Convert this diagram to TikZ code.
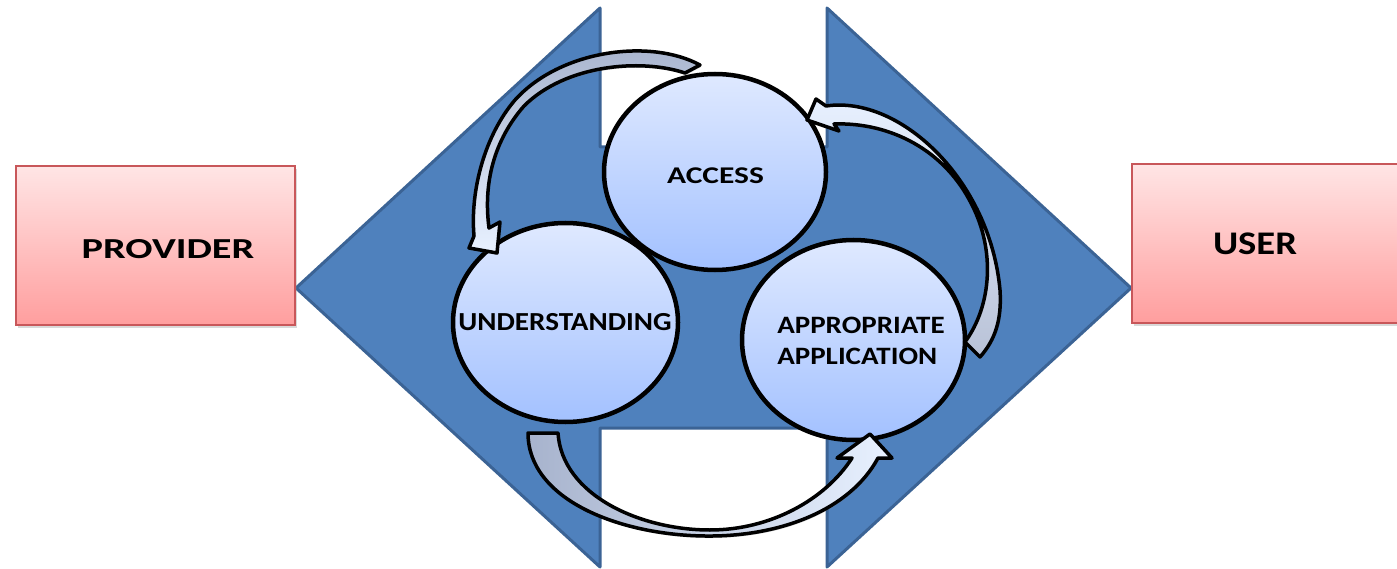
\documentclass[tikz,border=0pt]{standalone}
\usepackage{fontspec}
\setmainfont{Carlito}
\usetikzlibrary{shapes.geometric,shadows}

\definecolor{band}{HTML}{4F81BD}
\definecolor{bandline}{HTML}{3B6395}
\definecolor{pinktop}{HTML}{FFE5E5}
\definecolor{pinkbot}{HTML}{FF9E9E}
\definecolor{pinkline}{HTML}{C8575A}
\definecolor{bubtop}{HTML}{DFE9FF}
\definecolor{bubbot}{HTML}{A3C1FF}
\definecolor{arrlight}{HTML}{E8F1FF}
\definecolor{arrdark}{HTML}{A7B3CD}

\newcommand{\wide}[2]{\scalebox{#1}[1]{#2}}

\tikzset{
    box/.style={rectangle, draw=pinkline, line width=1.5pt, top color=pinktop, bottom color=pinkbot,
        drop shadow={opacity=0.3, shadow xshift=2pt, shadow yshift=-3pt}},
    bubble/.style={ellipse, draw=black, line width=4.5pt, top color=bubtop, bottom color=bubbot},
    word/.style={inner sep=0pt},
    bent/.style={draw=black, line width=3.5pt, line join=round,
        drop shadow={opacity=0.35, shadow xshift=1pt, shadow yshift=-2pt}}
}

\begin{document}
\begin{tikzpicture}[x=1pt,y=-1pt]
    \useasboundingbox (0,0) rectangle (1397,569);

    \draw[fill=band, draw=bandline, line width=3pt, line join=round]
        (296,288) -- (600,8) -- (600,147) -- (827,147) -- (827,8) -- (1131,288)
        -- (827,567) -- (827,428) -- (600,428) -- (600,567) -- cycle;

    \node[box, minimum width=279, minimum height=159] (provider) at (155.5,245.5) {};
    \node[box, minimum width=270, minimum height=159] (user) at (1267,243.5) {};

    \node[bubble, minimum width=225, minimum height=199] (understanding) at (565.5,322.5) {};
    \node[bubble, minimum width=222, minimum height=196] (access) at (715,172) {};
    \node[bubble, minimum width=223, minimum height=200] (application) at (853.5,340) {};

    \draw[bent, top color=arrdark, bottom color=arrlight]
        (700,65) .. controls (650,38) and (560,50) .. (515,100)
        .. controls (485,135) and (470,190) .. (474,236) -- (469,248) -- (497,253) -- (500,222)
        -- (489,228) .. controls (484,190) and (490,145) .. (524,106)
        .. controls (565,65) and (640,58) .. (685,73) -- cycle;
    \draw[bent, top color=arrlight, bottom color=arrdark!80!white]
        (807,120) -- (816,99) -- (826,106) .. controls (900,95) and (990,180) .. (1000,290)
        .. controls (1002,320) and (995,340) .. (980,357) -- (965,342)
        .. controls (992,305) and (995,250) .. (972,205)
        .. controls (945,150) and (890,122) .. (834,124) -- (839,131) -- cycle;
    \draw[bent, left color=arrdark, right color=arrlight]
        (528,433) -- (558,433) .. controls (562,495) and (640,530) .. (710,530)
        .. controls (770,530) and (825,500) .. (852,458) -- (837,458) -- (870,434)
        -- (892,458) -- (878,458) .. controls (850,510) and (780,537) .. (705,536)
        .. controls (620,535) and (528,500) .. (528,433) -- cycle;

    \node[word, font=\bfseries\fontsize{29}{34}\selectfont] at (168,249) {\wide{1.39}{PROVIDER}};
    \node[word, font=\bfseries\fontsize{33}{38}\selectfont] at (1255,243.5) {\wide{1.17}{USER}};
    \node[word, font=\bfseries\fontsize{24}{29}\selectfont] at (715.5,175.5) {\wide{1.31}{ACCESS}};
    \node[word, font=\bfseries\fontsize{26}{31}\selectfont] at (565,322) {\wide{1.12}{UNDERSTANDING}};
    \node[word, align=left, font=\bfseries\fontsize{25}{31}\selectfont] at (861,340.5)
        {\wide{1.16}{APPROPRIATE}\\\wide{1.16}{APPLICATION}};
\end{tikzpicture}
\end{document}
